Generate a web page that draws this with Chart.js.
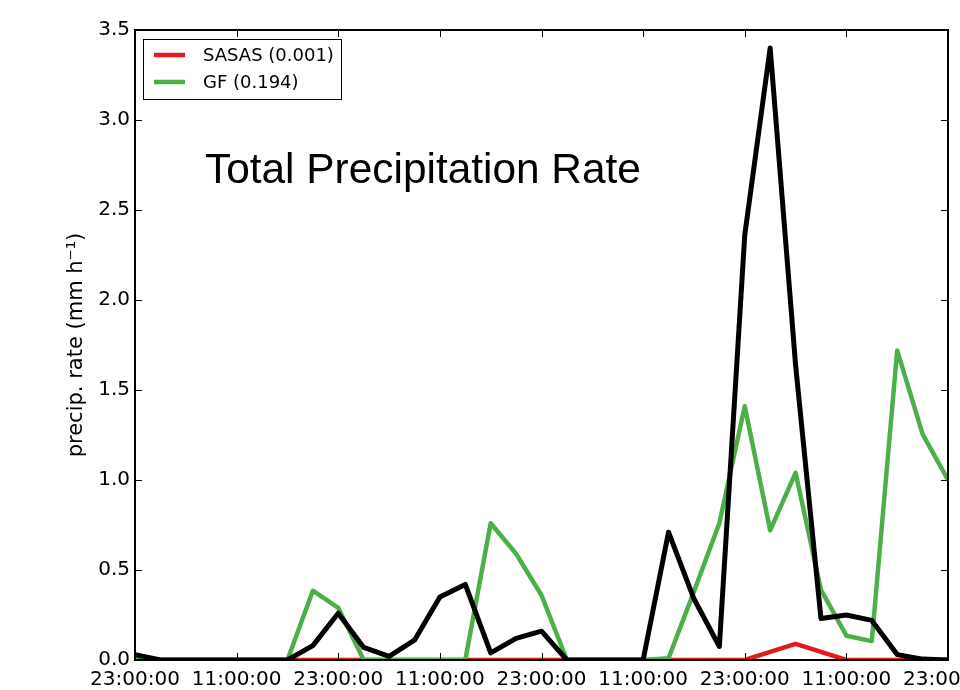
<!DOCTYPE html>
<html>
<head>
<meta charset="utf-8">
<title>Total Precipitation Rate</title>
<script src="https://cdn.jsdelivr.net/npm/chart.js@4/dist/chart.umd.min.js"></script>
<style>
    body { margin: 0; background: #fff; }
    #chart { display: block; }
</style>
</head>
<body>
<canvas id="chart" width="960" height="690"></canvas>
<script>
// Total precipitation rate, 3-hourly

// time axis (every 3 h, starting 23:00)
const times = [
    '23:00:00', '02:00:00', '05:00:00', '08:00:00', '11:00:00', '14:00:00', '17:00:00', '20:00:00',
    '23:00:00', '02:00:00', '05:00:00', '08:00:00', '11:00:00', '14:00:00', '17:00:00', '20:00:00',
    '23:00:00', '02:00:00', '05:00:00', '08:00:00', '11:00:00', '14:00:00', '17:00:00', '20:00:00',
    '23:00:00', '02:00:00', '05:00:00', '08:00:00', '11:00:00', '14:00:00', '17:00:00', '20:00:00',
    '23:00:00'
];

// series values (mm h-1)
const sasas = [
    0, 0, 0, 0, 0, 0, 0, 0, 0, 0, 0, 0, 0, 0, 0, 0,
    0, 0, 0, 0, 0, 0, 0, 0, 0, 0.045, 0.09, 0.045, 0, 0, 0, 0, 0
];
const gf = [
    0, 0, 0, 0, 0, 0, 0, 0.385, 0.29, 0, 0, 0, 0, 0, 0.76, 0.59,
    0.36, 0, 0, 0, 0, 0.01, 0.38, 0.76, 1.41, 0.72, 1.04, 0.39, 0.135, 0.105, 1.72, 1.255, 1.0
];
const observed = [
    0.03, 0, 0, 0, 0, 0, 0, 0.08, 0.26, 0.07, 0.02, 0.11, 0.35, 0.42, 0.04, 0.12,
    0.16, 0, 0, 0, 0, 0.71, 0.34, 0.075, 2.36, 3.40, 1.64, 0.23, 0.25, 0.22, 0.03, 0.005, 0
];

const seriesLabels = ['SASAS (0.001)', 'GF (0.194)', 'Observed'];
const yMax = 3.5;
const yStep = 0.5;
const xTickEvery = 4;   // label every 12 h

const TICK_FONT = { family: 'DejaVu Sans', size: 20 };

// frame, inward ticks, title text and boxed legend (matplotlib look)
const framePlugin = {
    id: 'frame',
    afterDraw(chart) {
        const ctx = chart.ctx;
        const area = chart.chartArea;
        const xs = chart.scales.x;
        const ys = chart.scales.y;
        ctx.save();

        // inward ticks on all four sides
        ctx.strokeStyle = '#000';
        ctx.lineWidth = 1;
        ctx.beginPath();
        times.forEach((t, i) => {
            if (i % xTickEvery !== 0) return;
            const px = Math.round(xs.getPixelForValue(i)) + 0.5;
            ctx.moveTo(px, area.bottom);
            ctx.lineTo(px, area.bottom - 7);
            ctx.moveTo(px, area.top);
            ctx.lineTo(px, area.top + 7);
        });
        ys.ticks.forEach(t => {
            const py = Math.round(ys.getPixelForValue(t.value)) + 0.5;
            ctx.moveTo(area.left, py);
            ctx.lineTo(area.left + 7, py);
            ctx.moveTo(area.right, py);
            ctx.lineTo(area.right - 7, py);
        });
        ctx.stroke();

        // axes frame
        ctx.lineWidth = 2;
        ctx.strokeRect(area.left, area.top, area.right - area.left, area.bottom - area.top);

        // title inside the axes
        ctx.fillStyle = '#000';
        ctx.font = '42.4px "Liberation Sans", Arial, sans-serif';
        ctx.textAlign = 'left';
        ctx.textBaseline = 'alphabetic';
        ctx.fillText('Total Precipitation Rate', area.left + 70, 183);

        // legend box (first two series only)
        const bx = area.left + 8, by = area.top + 9, bw = 198, bh = 60;
        ctx.fillStyle = '#fff';
        ctx.fillRect(bx, by, bw, bh);
        ctx.lineWidth = 1;
        ctx.strokeStyle = '#000';
        ctx.strokeRect(bx + 0.5, by + 0.5, bw, bh);
        ctx.font = '18px "DejaVu Sans", sans-serif';
        ctx.textBaseline = 'middle';
        chart.data.datasets.slice(0, 2).forEach((ds, i) => {
            const ly = by + 16 + i * 27;
            ctx.strokeStyle = ds.borderColor;
            ctx.lineWidth = ds.borderWidth;
            ctx.beginPath();
            ctx.moveTo(bx + 11, ly);
            ctx.lineTo(bx + 42, ly);
            ctx.stroke();
            ctx.fillStyle = '#000';
            ctx.fillText(ds.label, bx + 60, ly + 1);
        });
        ctx.restore();
    }
};

function lineSet(label, data, color, width, order) {
    return {
        label: label,
        data: data,
        borderColor: color,
        borderWidth: width,
        borderJoinStyle: 'round',
        pointRadius: 0,
        tension: 0,
        clip: 0,
        order: order
    };
}

const ctx = document.getElementById('chart').getContext('2d');
const chart = new Chart(ctx, {
    type: 'line',
    data: {
        labels: times,
        datasets: [
            lineSet(seriesLabels[0], sasas, '#e41a1c', 4.5, 3),
            lineSet(seriesLabels[1], gf, '#4daf4a', 4.5, 2),
            lineSet(seriesLabels[2], observed, '#000000', 5, 1)
        ]
    },
    options: {
        responsive: false,
        animation: false,
        layout: {
            padding: { top: 30, right: 12, left: 0, bottom: 0 }
        },
        plugins: {
            legend: { display: false },
            tooltip: { enabled: false }
        },
        scales: {
            x: {
                type: 'category',
                offset: false,
                grid: { display: false, drawTicks: false },
                border: { display: false },
                ticks: {
                    autoSkip: false,
                    minRotation: 0,
                    maxRotation: 0,
                    padding: 8,
                    color: '#000',
                    font: TICK_FONT,
                    callback: function(value, index) {
                        return index % xTickEvery === 0 ? this.getLabelForValue(value) : '';
                    }
                },
                afterFit: function(scale) {
                    scale.paddingLeft = 0;
                    scale.paddingRight = 0;
                    scale.height = 30;
                }
            },
            y: {
                min: 0,
                max: yMax,
                grid: { display: false, drawTicks: false },
                border: { display: false },
                ticks: {
                    stepSize: yStep,
                    padding: 5,
                    color: '#000',
                    font: TICK_FONT,
                    callback: function(value) {
                        return value.toFixed(1);
                    }
                },
                title: {
                    display: true,
                    text: 'precip. rate (mm h\u207B\u00B9)',
                    color: '#000',
                    font: { family: 'DejaVu Sans', size: 21, lineHeight: 1.2 },
                    padding: { top: 64, bottom: 0 }
                },
                afterFit: function(scale) {
                    scale.width = 135;
                    scale.paddingTop = 0;
                    scale.paddingBottom = 0;
                }
            }
        }
    },
    plugins: [framePlugin]
});
</script>
</body>
</html>
